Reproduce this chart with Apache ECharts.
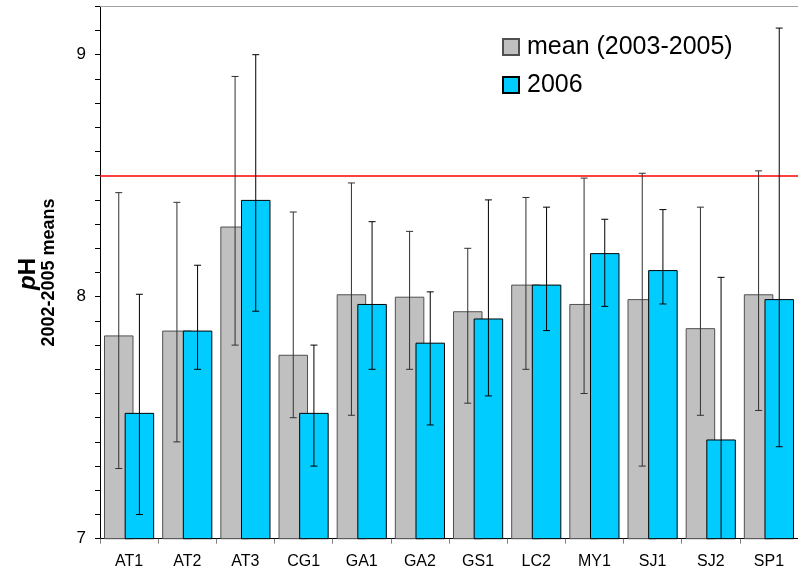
<!DOCTYPE html>
<html>
<head>
<meta charset="utf-8">
<script src="https://cdn.jsdelivr.net/npm/echarts@6/dist/echarts.min.js"></script>
<style>
html,body{margin:0;padding:0;background:#fff;}
#chart{width:798px;height:577px;}
</style>
</head>
<body>
<div id="chart"></div>
<script>
const categories = ['AT1','AT2','AT3','CG1','GA1','GA2','GS1','LC2','MY1','SJ1','SJ2','SP1'];
const meanValues = [7.84,7.86,8.29,7.76,8.01,8.00,7.94,8.05,7.97,7.99,7.87,8.01];
const meanLow    = [7.29,7.40,7.80,7.50,7.51,7.70,7.56,7.70,7.60,7.30,7.51,7.53];
const meanHigh   = [8.43,8.39,8.91,8.35,8.47,8.27,8.20,8.41,8.49,8.51,8.37,8.52];
const values2006 = [7.52,7.86,8.40,7.52,7.97,7.81,7.91,8.05,8.18,8.11,7.41,7.99];
const low2006    = [7.10,7.70,7.94,7.30,7.70,7.47,7.59,7.86,7.96,7.97,6.74,7.38];
const high2006   = [8.01,8.13,9.00,7.80,8.31,8.02,8.40,8.37,8.32,8.36,8.08,9.11];
const threshold = 8.5;
const yMin = 7, yMax = 9.2, yMinorStep = 0.1, yLabelStep = 1;

const FONT = '"Liberation Sans", Arial, sans-serif';
const BAR_W = 29.5;
const BAR_GAP = -0.3;

function errRender(color, sign) {
  return function (params, api) {
    const i = api.value(0);
    const lo = api.coord([i, api.value(1)]);
    const hi = api.coord([i, api.value(2)]);
    const off = sign * BAR_W * (1 + BAR_GAP) / 2;
    const x = lo[0] + off;
    const cap = 3.5;
    const style = { stroke: color, lineWidth: 1 };
    return {
      type: 'group',
      children: [
        { type: 'line', shape: { x1: x, y1: lo[1], x2: x, y2: hi[1] }, style: style },
        { type: 'line', shape: { x1: x - cap, y1: lo[1], x2: x + cap, y2: lo[1] }, style: style },
        { type: 'line', shape: { x1: x - cap, y1: hi[1], x2: x + cap, y2: hi[1] }, style: style }
      ]
    };
  };
}

const chart = echarts.init(document.getElementById('chart'), null, { renderer: 'canvas' });
chart.setOption({
  animation: false,
  backgroundColor: '#ffffff',
  textStyle: { fontFamily: FONT },
  grid: { left: 100, right: -4, top: 6.3, bottom: 38.3, containLabel: false },
  legend: {
    data: ['mean (2003-2005)', '2006'],
    orient: 'vertical',
    left: 502,
    top: 34.5,
    padding: 0,
    itemWidth: 16,
    itemHeight: 16,
    itemGap: 13,
    icon: 'rect',
    textStyle: { fontFamily: FONT, fontSize: 25, color: '#000', padding: [0, 0, 0, 3] }
  },
  xAxis: [{
    type: 'category',
    data: categories,
    boundaryGap: true,
    axisLine: { lineStyle: { color: '#000', width: 1 } },
    axisTick: { show: true, alignWithLabel: false, length: 5, lineStyle: { color: '#808080' } },
    axisLabel: { fontFamily: FONT, fontSize: 16, color: '#000', margin: 15 },
    splitLine: { show: false }
  }, {
    type: 'category',
    data: categories,
    position: 'top',
    axisLine: { show: true, lineStyle: { color: '#A0A0A0', width: 1 } },
    axisTick: { show: false },
    axisLabel: { show: false },
    splitLine: { show: false }
  }],
  yAxis: [{
    type: 'value',
    min: yMin,
    max: yMax,
    interval: yMinorStep,
    position: 'left',
    axisLine: { show: true, lineStyle: { color: '#000', width: 1 } },
    axisTick: { show: true, length: 5, lineStyle: { color: '#000' } },
    axisLabel: { show: false },
    splitLine: { show: false }
  }, {
    type: 'value',
    min: yMin,
    max: yMax,
    interval: yLabelStep,
    position: 'left',
    offset: 0,
    axisLine: { show: false },
    axisTick: { show: false },
    axisLabel: { show: true, fontFamily: FONT, fontSize: 17, color: '#000', margin: 14, align: 'right', showMaxLabel: false },
    splitLine: { show: false }
  }],
  graphic: [
    {
      type: 'text', x: 28, y: 274, rotation: Math.PI / 2,
      style: {
        text: '{p|p}{h|H}',
        align: 'center', verticalAlign: 'middle',
        rich: {
          p: { fontFamily: FONT, fontSize: 24, fontWeight: 'bold', fontStyle: 'italic', fill: '#000' },
          h: { fontFamily: FONT, fontSize: 24, fontWeight: 'bold', fill: '#000' }
        }
      }
    },
    {
      type: 'text', x: 49, y: 272.5, rotation: Math.PI / 2,
      style: {
        text: '2002-2005 means',
        font: 'bold 18px "Liberation Sans", Arial, sans-serif',
        fill: '#000', align: 'center', verticalAlign: 'middle'
      }
    }
  ],
  series: [
    {
      name: 'mean (2003-2005)',
      type: 'bar',
      data: meanValues,
      barWidth: BAR_W,
      barGap: (BAR_GAP * 100) + '%',
      itemStyle: { color: '#C0C0C0', borderColor: '#505050', borderWidth: 1 },
      z: 2,
      markLine: {
        silent: true,
        symbol: 'none',
        label: { show: false },
        lineStyle: { color: '#FF0000', width: 1.5, type: 'solid' },
        data: [{ yAxis: threshold }]
      }
    },
    {
      name: '2006',
      type: 'bar',
      data: values2006,
      barWidth: BAR_W,
      barGap: (BAR_GAP * 100) + '%',
      itemStyle: { color: '#00CCFF', borderColor: '#000000', borderWidth: 1 },
      z: 3
    },
    {
      name: 'err mean',
      type: 'custom',
      renderItem: errRender('#303030', -1),
      data: categories.map((c, i) => [i, meanLow[i], meanHigh[i]]),
      encode: { x: 0, y: [1, 2] },
      clip: true,
      z: 5
    },
    {
      name: 'err 2006',
      type: 'custom',
      renderItem: errRender('#000000', 1),
      data: categories.map((c, i) => [i, low2006[i], high2006[i]]),
      encode: { x: 0, y: [1, 2] },
      clip: true,
      z: 5
    }
  ]
});
</script>
</body>
</html>
